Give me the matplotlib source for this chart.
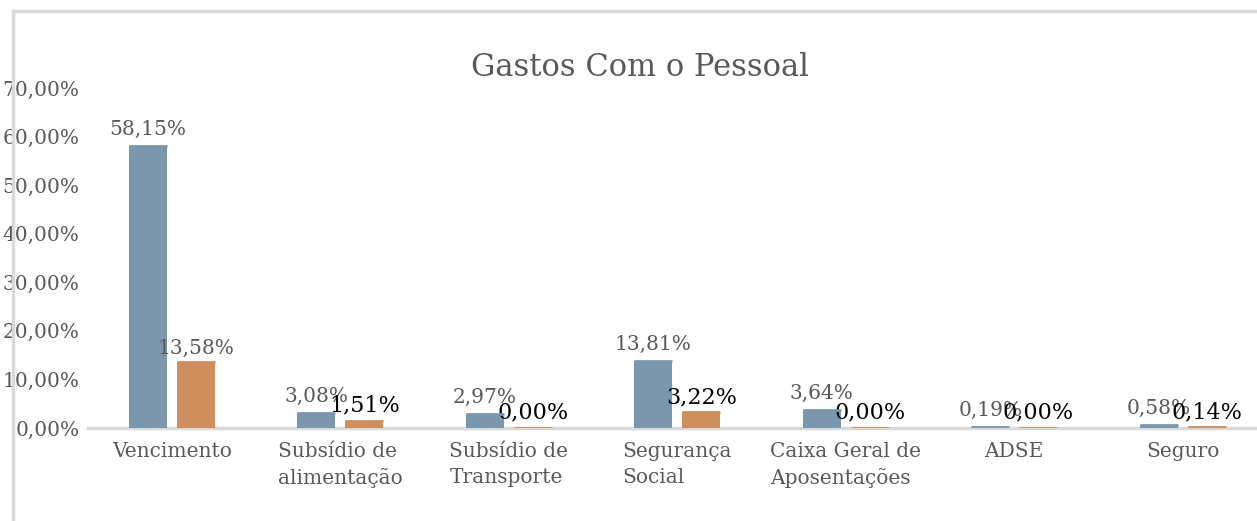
"""
Gastos Com o Pessoal: barras agrupadas (duas séries) com rótulos de percentagem.
Gera out.png.
"""
import matplotlib
matplotlib.use("Agg")
import matplotlib.pyplot as plt
from matplotlib.patches import Rectangle
from matplotlib.ticker import FuncFormatter
import numpy as np

categorias = [
    "Vencimento",
    "Subsídio de\nalimentação",
    "Subsídio de\nTransporte",
    "Segurança\nSocial",
    "Caixa Geral de\nAposentações",
    "ADSE",
    "Seguro",
]
serie_1 = [58.15, 3.08, 2.97, 13.81, 3.64, 0.19, 0.58]
serie_2 = [13.58, 1.51, 0.00, 3.22, 0.00, 0.00, 0.14]
# o primeiro rótulo da série 2 aparece cinzento e menor; os restantes a preto
cor_rotulo_2 = ["#595959", "black", "black", "black", "black", "black", "black"]

COR_1 = "#7B97AE"
COR_2 = "#CE8E5D"
COR_TEXTO = "#595959"
COR_LINHA = "#D9D9D9"
FONTE = "DejaVu Serif"

W, H = 1257, 521
fig = plt.figure(figsize=(W / 100, H / 100), dpi=100)

ax = fig.add_axes([87.75 / W, (H - 428) / H, (1267 - 87.75) / W, 340 / H])
x = np.arange(len(categorias))
largura = 0.2255
desloc = 0.1424

ax.bar(x - desloc, serie_1, largura, color=COR_1, zorder=3)
ax.bar(x + desloc, serie_2, largura, color=COR_2, zorder=3)
# topo de cada barra como linha: as barras a 0,00% ficam visíveis sobre o eixo
ax.hlines(serie_1, x - desloc - largura / 2, x - desloc + largura / 2, color=COR_1, lw=2, zorder=4)
ax.hlines(serie_2, x + desloc - largura / 2, x + desloc + largura / 2, color=COR_2, lw=2, zorder=4)

for xi, v in zip(x, serie_1):
    ax.annotate(f"{v:.2f}%".replace(".", ","), (xi - desloc, v), xytext=(0, 5),
                textcoords="offset points", ha="center", va="bottom",
                fontsize=14.5, color=COR_TEXTO, family=FONTE)
for xi, v, c in zip(x, serie_2, cor_rotulo_2):
    tam = 14.5 if c != "black" else 16
    ax.annotate(f"{v:.2f}%".replace(".", ","), (xi + desloc, v), xytext=(0, 3),
                textcoords="offset points", ha="center", va="bottom",
                fontsize=tam, color=c, family=FONTE)

ax.set_xlim(-0.5, len(categorias) - 0.5)
ax.set_ylim(0, 70)
ax.set_yticks(np.arange(0, 71, 10))
ax.yaxis.set_major_formatter(FuncFormatter(lambda v, p: f"{v:.2f}%".replace(".", ",")))
ax.set_xticks(x)
ax.set_xticklabels(categorias, multialignment="left", linespacing=1.45)
for lbl in ax.get_xticklabels() + ax.get_yticklabels():
    lbl.set_family(FONTE)
    lbl.set_fontsize(14.5)
    lbl.set_color(COR_TEXTO)

for s in ("top", "right", "left"):
    ax.spines[s].set_visible(False)
ax.spines["bottom"].set_color(COR_LINHA)
ax.spines["bottom"].set_linewidth(2.5)
ax.tick_params(axis="both", length=0)
ax.tick_params(axis="x", pad=10)
ax.tick_params(axis="y", pad=6)

fig.text(640 / W, (H - 68) / H, "Gastos Com o Pessoal", ha="center", va="center",
         fontsize=22, color=COR_TEXTO, family=FONTE)

# moldura do gráfico (cortada à direita e em baixo), por cima do texto
fig.add_artist(Rectangle((13 / W, -0.1), 1.2, (H - 11) / H + 0.1,
                         transform=fig.transFigure, fill=False,
                         edgecolor=COR_LINHA, linewidth=2.5, zorder=10))

fig.savefig("out.png", dpi=100)
